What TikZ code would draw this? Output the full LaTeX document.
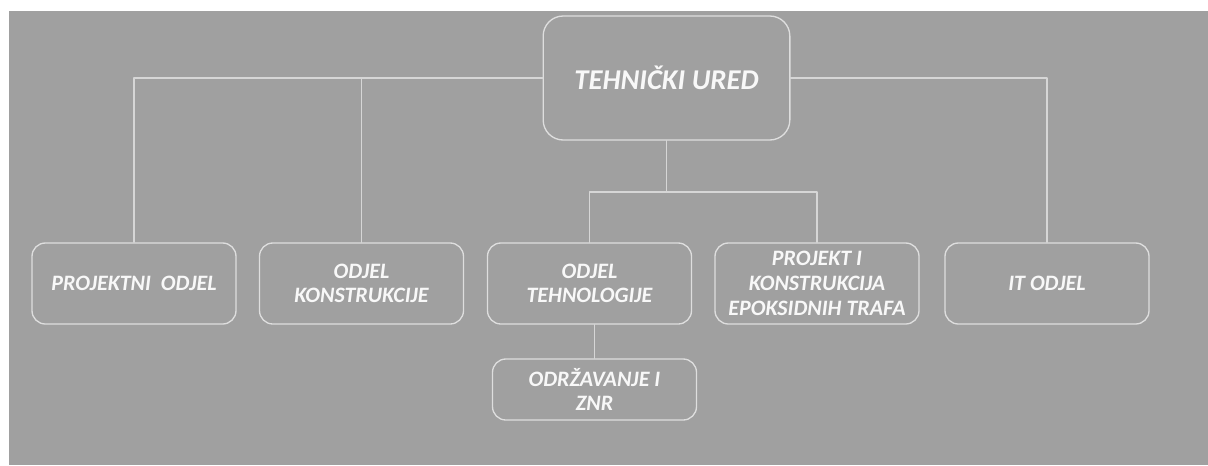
\documentclass[tikz,border=0pt]{standalone}
\usepackage{fontspec}
\setmainfont{Carlito}
\usetikzlibrary{positioning}
\definecolor{bggray}{HTML}{A0A0A0}
\definecolor{edgegray}{HTML}{DEDEDE}
\definecolor{linegray}{HTML}{D6D6D6}
\definecolor{textwhite}{HTML}{F8F8F8}

\begin{document}
\begin{tikzpicture}[x=0.75pt, y=-0.75pt, line cap=round, line join=round,
	unit/.style={draw=edgegray, line width=1pt, fill=bggray, rounded corners=10pt,
		minimum width=153pt, minimum height=60.75pt, align=center, text=textwhite,
		inner sep=2pt, font=\fontsize{16.5}{18.5}\selectfont\bfseries\itshape},
	head/.style={unit, minimum width=185pt, minimum height=93pt, rounded corners=15pt,
		font=\fontsize{21.5}{24}\selectfont\bfseries\itshape},
	link/.style={draw=linegray, line width=0.8pt}]
%========================
% background
%========================
\useasboundingbox (0,0) rectangle (1208,465);
\fill[white] (0,0) rectangle (1208,465);
\fill[bggray] (9,11) rectangle (1208,465);

%========================
% nodes
%========================
\node[head] (ured) at (666.5,78) {TEHNIČKI URED};
\node[unit] (projektni) at (134,283.5) {PROJEKTNI\ \ ODJEL};
\node[unit] (konstrukcija) at (361.5,283.5) {ODJEL\\KONSTRUKCIJE};
\node[unit] (tehnologija) at (589.5,283.5) {ODJEL\\TEHNOLOGIJE};
\node[unit] (epoksid) at (817,283.5) {PROJEKT I\\KONSTRUKCIJA\\EPOKSIDNIH TRAFA};
\node[unit] (it) at (1047,283.5) {IT ODJEL};
\node[unit, minimum height=45.75pt] (odrzavanje) at (594.5,389.5) {ODRŽAVANJE I\\ZNR};

% branch point below the head
\coordinate (split) at (666.5,192);

%========================
% connectors
%========================
\draw[link] (ured.west) -| (projektni.north);
\draw[link] (ured.west) -| (konstrukcija.north);
\draw[link] (ured.east) -| (it.north);
\draw[link] (ured.south) -- (split);
\draw[link] (split) -| (tehnologija.north);
\draw[link] (split) -| (epoksid.north);
\draw[link] (odrzavanje.north) -- (odrzavanje.north |- tehnologija.south);
\end{tikzpicture}
\end{document}
